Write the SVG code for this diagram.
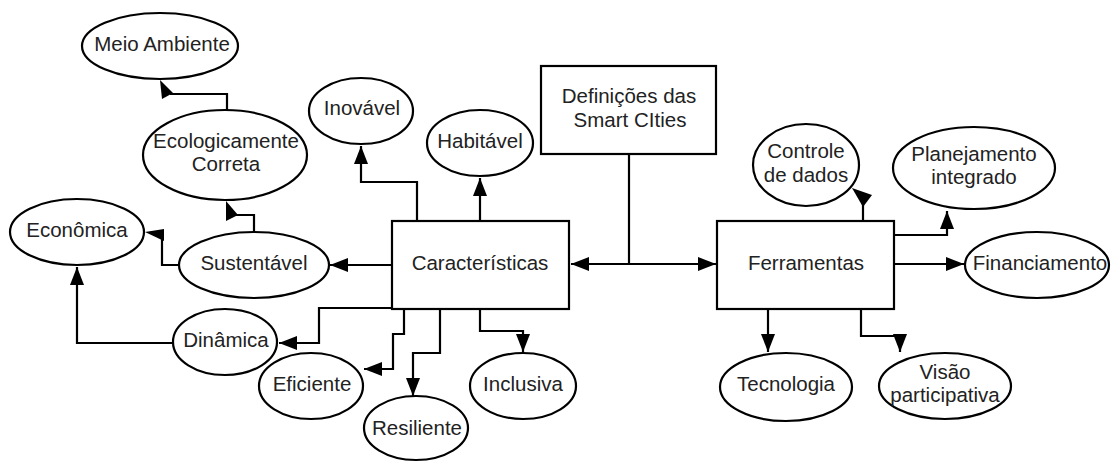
<svg xmlns="http://www.w3.org/2000/svg" width="1113" height="462" viewBox="0 0 1113 462">
<style>
.n ellipse, .n rect { fill: #fff; stroke: #000; stroke-width: 2.2; }
.n text { font-family: "Liberation Sans", Arial, sans-serif; font-size: 20.5px; fill: #222; text-anchor: middle; }
#connectors path { fill: none; stroke: #000; stroke-width: 2.2; }
#connectors polygon { fill: #000; stroke: none; }
</style>
<defs>
<marker id="arr" markerUnits="userSpaceOnUse" markerWidth="19" markerHeight="14" refX="18" refY="7" orient="auto">
<path d="M0,0 L18,7 L0,14 z" fill="#000"/>
</marker>
</defs>
<rect width="1113" height="462" fill="#fff"/>
<g id="connectors">
<path d="M417,221 V182 H361 V146" marker-end="url(#arr)"/>
<path d="M480,221 V178" marker-end="url(#arr)"/>
<path d="M629,154 V264"/>
<path d="M629,264 H571" marker-end="url(#arr)"/>
<path d="M629,264 H716" marker-end="url(#arr)"/>
<path d="M392,265 H330" marker-end="url(#arr)"/>
<path d="M392,308 H319 V343 H279" marker-end="url(#arr)"/>
<path d="M404,309 V334 H393 V369 H364" marker-end="url(#arr)"/>
<path d="M440,309 V353 H413 V396" marker-end="url(#arr)"/>
<path d="M480,309 V331 H523 V352" marker-end="url(#arr)"/>
<path d="M173,343 H77 V267" marker-end="url(#arr)"/>
<path d="M180,265 H162 V236"/>
<polygon points="145,232 164,229 164,241"/>
<path d="M254,232 V215 H236"/>
<polygon points="226,201 226,221 238,215"/>
<path d="M227,110 V94 H170"/>
<polygon points="160,80 162,99 173,93"/>
<path d="M863,221 V203"/>
<polygon points="852,188 872,195 863,207"/>
<path d="M894,235 H947 V211" marker-end="url(#arr)"/>
<path d="M894,264 H964" marker-end="url(#arr)"/>
<path d="M768,309 V352" marker-end="url(#arr)"/>
<path d="M861,309 V336 H900 V352" marker-end="url(#arr)"/>
</g>
<g id="meio-ambiente" class="n"><ellipse cx="160" cy="46" rx="78" ry="33"/><text x="162" y="51">Meio Ambiente</text></g>
<g id="ecologicamente" class="n"><ellipse cx="225" cy="155" rx="82" ry="45"/><text x="226" y="148">Ecologicamente</text><text x="226" y="171">Correta</text></g>
<g id="inovavel" class="n"><ellipse cx="361" cy="111" rx="52" ry="33"/><text x="362" y="115">Inovável</text></g>
<g id="habitavel" class="n"><ellipse cx="480" cy="143" rx="53" ry="33"/><text x="480" y="148">Habitável</text></g>
<g id="definicoes" class="n"><rect x="541" y="66" width="175" height="88"/><text x="629" y="103">Definições das</text><text x="630" y="127">Smart CIties</text></g>
<g id="caracteristicas" class="n"><rect x="392" y="221" width="177" height="88"/><text x="480" y="270">Características</text></g>
<g id="economica" class="n"><ellipse cx="77" cy="232" rx="67" ry="33"/><text x="77" y="237">Econômica</text></g>
<g id="sustentavel" class="n"><ellipse cx="254" cy="265" rx="75" ry="33"/><text x="254" y="270">Sustentável</text></g>
<g id="dinamica" class="n"><ellipse cx="225" cy="342" rx="52" ry="33"/><text x="226" y="347">Dinâmica</text></g>
<g id="eficiente" class="n"><ellipse cx="311" cy="386" rx="52" ry="33"/><text x="312" y="391">Eficiente</text></g>
<g id="resiliente" class="n"><ellipse cx="416" cy="428" rx="52" ry="32"/><text x="417" y="435">Resiliente</text></g>
<g id="inclusiva" class="n"><ellipse cx="523" cy="386" rx="53" ry="33"/><text x="523" y="391">Inclusiva</text></g>
<g id="ferramentas" class="n"><rect x="717" y="221" width="177" height="88"/><text x="806" y="270">Ferramentas</text></g>
<g id="controle" class="n"><ellipse cx="806" cy="165" rx="53" ry="41"/><text x="806" y="158">Controle</text><text x="806" y="182">de dados</text></g>
<g id="planejamento" class="n"><ellipse cx="974" cy="168" rx="81" ry="41"/><text x="974" y="161">Planejamento</text><text x="974" y="184">integrado</text></g>
<g id="financiamento" class="n"><ellipse cx="1037" cy="265" rx="72" ry="33"/><text x="1040" y="270">Financiamento</text></g>
<g id="tecnologia" class="n"><ellipse cx="786" cy="387" rx="66" ry="34"/><text x="786" y="391">Tecnologia</text></g>
<g id="visao" class="n"><ellipse cx="945" cy="386" rx="66" ry="33"/><text x="945" y="379">Visão</text><text x="945" y="402">participativa</text></g>
</svg>
